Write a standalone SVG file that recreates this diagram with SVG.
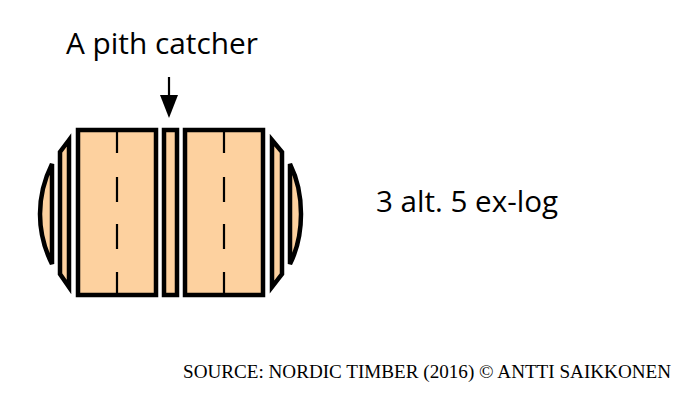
<svg xmlns="http://www.w3.org/2000/svg" width="700" height="418" viewBox="0 0 700 418">
<style>
.board{fill:#fdd19f;stroke:#000;stroke-width:4.5;stroke-linejoin:bevel}
.tip{stroke-linejoin:miter;stroke-miterlimit:10}
.pith{fill:none;stroke:#000;stroke-width:2.2}
.label{font-family:"Open Sans","Noto Sans",sans-serif;fill:#000}
.src{font-family:"Liberation Serif",serif;font-size:18px;fill:#000}
</style>
<rect width="700" height="418" fill="#fff"/>
<g id="left-slab"><path class="board" d="M52,164 C45,178 40,196 40,214 C40,232 45,250 52,264 Z"/></g>
<g id="left-side-board"><path class="board tip" d="M69,140 L60,152 L60,274 L69,287 Z"/></g>
<g id="left-plank"><rect class="board tip" x="78" y="130" width="78" height="165"/></g>
<g id="pith-catcher"><rect class="board tip" x="164" y="130" width="13" height="165"/></g>
<g id="right-plank"><rect class="board tip" x="185" y="130" width="78" height="165"/></g>
<g id="right-side-board"><path class="board tip" d="M272,140 L282,152 L282,274 L272,287 Z"/></g>
<g id="right-slab"><path class="board" d="M290,164 C297,178 301,196 301,214 C301,232 297,250 290,264 Z"/></g>
<g id="connectors">
<path class="pith" d="M117,130V153M117,177V202M117,224V249M117,272V295"/>
<path class="pith" d="M224,130V153M224,177V202M224,224V249M224,272V295"/>
<path d="M169,77V100" stroke="#000" stroke-width="2.2" fill="none"/>
<path d="M160,95L178,95L169,118Z" fill="#000"/>
</g>
<text class="label" x="66" y="54" font-size="30" textLength="192" lengthAdjust="spacingAndGlyphs">A pith catcher</text>
<text class="label" x="376" y="212" font-size="29.5" textLength="182" lengthAdjust="spacingAndGlyphs">3 alt. 5 ex-log</text>
<text class="src" x="183" y="378" textLength="488" lengthAdjust="spacingAndGlyphs">SOURCE: NORDIC TIMBER (2016) © ANTTI SAIKKONEN</text>
</svg>
